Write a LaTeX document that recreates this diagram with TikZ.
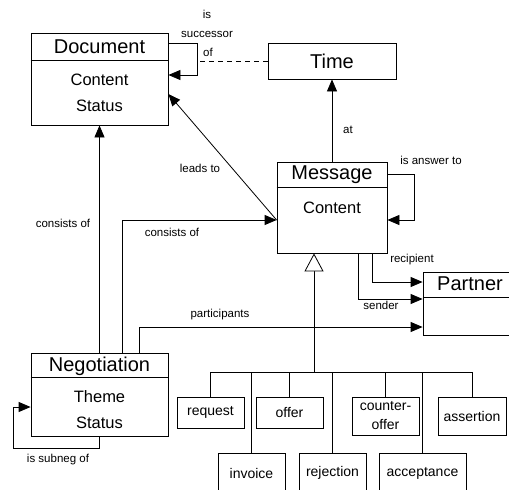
\documentclass[tikz,border=0pt]{standalone}
\usepackage{fontspec}
\setmainfont{Liberation Sans}
\usetikzlibrary{arrows.meta,calc}
\begin{document}
\begin{tikzpicture}[x=1pt,y=-1pt,
  box/.style={draw,line width=0.8pt,inner sep=0pt,fill=white},
  title/.style={font=\fontsize{20}{22}\selectfont,inner sep=0pt},
  attr/.style={font=\fontsize{16.5}{26}\selectfont,inner sep=0pt,align=center},
  sub/.style={box,font=\fontsize{14}{19}\selectfont,align=center,minimum width=67pt},
  lbl/.style={font=\fontsize{11.5}{19}\selectfont,inner sep=0pt,align=center},
  conn/.style={line width=0.8pt},
  arr/.style={conn,-{Triangle[length=12pt,width=10pt]}},
  gen/.style={conn,-{Triangle[open,length=18pt,width=19pt,fill=white]}}]
\clip (0,0) rectangle (509,490);
\fill[white] (0,0) rectangle (509,490);
% class boxes
\node[box,minimum width=137pt,minimum height=92pt] (doc) at (99.5,79) {};
\draw[conn] (doc.west |- 0,60) -- (doc.east |- 0,60);
\node[title] (doct) at (99.5,46.5) {Document};
\node[attr] (doca) at (99.5,93) {Content\\Status};
\node[box,minimum width=128pt,minimum height=36pt] (time) at (332,61) {};
\node[title] (timet) at (332,61) {Time};
\node[box,minimum width=110pt,minimum height=91pt] (msg) at (332,207.5) {};
\draw[conn] (msg.west |- 0,187) -- (msg.east |- 0,187);
\node[title] (msgt) at (332,175) {Message};
\node[attr] (msga) at (332,208) {Content};
\node[box,minimum width=100pt,minimum height=63pt] (partner) at (473,303.5) {};
\draw[conn] (partner.west |- 0,297) -- (partner.east |- 0,297);
\node[title] (partnert) at (470,284) {Partner};
\node[box,minimum width=137pt,minimum height=83pt] (neg) at (99.5,394.5) {};
\draw[conn] (neg.west |- 0,377) -- (neg.east |- 0,377);
\node[title] (negt) at (99.5,366) {Negotiation};
\node[attr] (nega) at (99.5,410) {Theme\\Status};
% subclasses
\node[sub,minimum height=31pt] (req) at (210.5,412.5) {request};
\node[sub,minimum height=31pt] (off) at (289.5,412.5) {offer};
\node[sub,minimum height=38pt] (cof) at (385.5,416) {counter-\\offer};
\node[sub,minimum width=68pt,minimum height=38pt] (ass) at (472,416) {assertion};
\node[sub,minimum height=40pt] (inv) at (251.5,473) {invoice};
\node[sub,minimum height=40pt] (rej) at (332.5,473) {rejection};
\node[sub,minimum width=87pt,minimum height=40pt] (acc) at (422.5,473) {acceptance};
% generalization
\coordinate (bus) at (314,372);
\foreach \n in {req,off,cof,ass,inv,rej,acc} \draw[conn] (bus) -| (\n.north);
\draw[gen] (bus) -- (bus |- msg.south);
% Document self loop
\draw[arr] (doc.east |- 0,43) -- (197,43) |- (doc.east |- 0,75);
\node[lbl] (succ) at (207,33) {is\\successor\\\,of};
\coordinate (dashstart) at (200,61);
\draw[conn,dashed,dash pattern=on 5pt off 4pt] (dashstart) -- (time.west);
% at
\draw[arr] (msg.north) -- (time.south);
\node[lbl] (atl) at (348,130) {at};
% message self loop
\draw[arr] (msg.east |- 0,174) -- (414,174) |- (msg.east |- 0,220);
\node[lbl] (ans) at (431,160) {is answer to};
% leads to
\draw[arr] (msg.west |- 0,220) -- (doc.east |- 0,94);
\node[lbl] (leads) at (200,168) {leads to};
% consists of (Document)
\draw[arr] (neg.north) -- (doc.south);
\node[lbl] (cons1) at (63,223) {consists of};
% consists of (Message)
\draw[arr] (neg.north west |- 0,353) ++(92,0) coordinate (c2) |- (msg.west |- 0,220);
\node[lbl] (cons2) at (172,232) {consists of};
% participants
\draw[arr] (139,353) |- (partner.west |- 0,327);
\node[lbl] (part) at (220,315) {participants};
% recipient / sender
\draw[arr] (msg.south west) ++(96,0) |- (partner.west |- 0,282);
\node[lbl] (rec) at (412,260) {recipient};
\draw[arr] (msg.south west) ++(82,0) |- (partner.west |- 0,299);
\node[lbl] (snd) at (381,305) {sender};
% subneg
\draw[arr] (neg.south) -- (99.5,448) -- (13,448) |- (neg.west |- 0,407);
\node[lbl] (subn) at (58,460) {is subneg of};
\end{tikzpicture}
\end{document}
